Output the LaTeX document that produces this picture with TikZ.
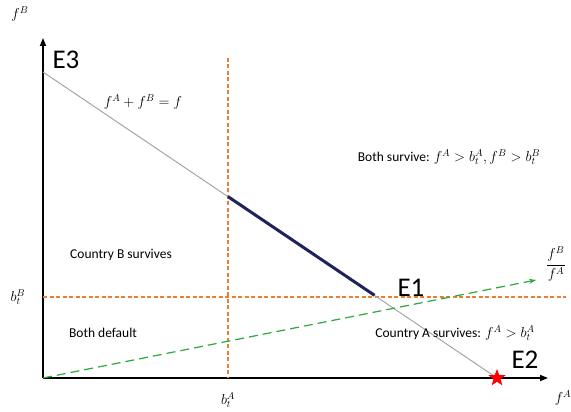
\documentclass[tikz,border=0pt]{standalone}
\usepackage{fontspec}
\setmainfont{Carlito}
\usetikzlibrary{shapes.geometric,arrows.meta}
\definecolor{thrOrange}{RGB}{237,125,49}
\definecolor{rayGreen}{RGB}{40,170,60}
\definecolor{segNavy}{RGB}{30,36,90}
\definecolor{lineGray}{RGB}{165,165,165}
\begin{document}
\begin{tikzpicture}[
    x=1pt, y=-1pt,
    axis/.style={line width=1.6pt, -{Triangle[length=8pt,width=6pt]}},
    budget/.style={draw=lineGray, line width=1pt},
    threshold/.style={draw=thrOrange, dash pattern=on 4pt off 2.5pt, line width=1.2pt},
    ratio/.style={draw=rayGreen, dash pattern=on 9pt off 5pt, line width=1.2pt, -{Stealth[length=7pt,width=5pt]}},
    region/.style={font=\fontsize{13.5}{16}\selectfont},
    axlabel/.style={font=\fontsize{14.4}{17}\selectfont},
    eqlabel/.style={font=\fontsize{27}{30}\selectfont, inner sep=0pt}
]
    \useasboundingbox (0,0) rectangle (571,412);
    % axes
    \coordinate (O) at (43,378);
    \coordinate (ytop) at (43,38);
    \coordinate (xend) at (548,378);
    \draw[axis] (O) -- (ytop);
    \draw[axis] (O) -- (xend);
    \node[axlabel] (fB) at (20,14) {$f^B$};
    \node[axlabel] (fA) at (563,398) {$f^A$};

    % thresholds
    \coordinate (bAtop) at (228,58);
    \coordinate (bAbot) at (228,378);
    \coordinate (bBleft) at (43,297);
    \coordinate (bBright) at (566,297);
    \draw[threshold] (bAtop) -- (bAbot);
    \draw[threshold] (bBleft) -- (bBright);
    \node[axlabel] (bA) at (228,400) {$b_t^A$};
    \node[axlabel] (bB) at (18,297) {$b_t^B$};

    % budget line
    \coordinate (E3pt) at (43,72);
    \coordinate (E2pt) at (497,378);
    \coordinate (seg1) at (228,196.6);
    \coordinate (seg2) at (374.5,295.3);
    \draw[budget] (E3pt) -- (E2pt);
    \draw[line width=3pt, draw=segNavy] (seg1) -- (seg2);
    \node[axlabel] (budgeteq) at (143,102) {$f^A+f^B=f$};

    % ratio ray
    \coordinate (rayend) at (536,280);
    \draw[ratio] (O) -- (rayend);
    \node[axlabel] (ratiolbl) at (556,264) {$\displaystyle\frac{f^B}{f^A}$};

    % equilibria
    \node[eqlabel] (E3) at (66,60) {E3};
    \node[eqlabel] (E1) at (411,288) {E1};
    \node[eqlabel] (E2) at (525,360) {E2};
    \node[star, star points=5, star point ratio=2.4, fill=red, inner sep=0pt, minimum size=18pt] (redstar) at (E2pt) {};

    % regions
    \node[region] (both) at (449,157) {Both survive: {\fontsize{14.4}{17}\selectfont$f^A>b_t^A,f^B>b_t^B$}};
    \node[region] (cB) at (121,255) {Country B survives};
    \node[region] (bd) at (103,333) {Both default};
    \node[region] (cA) at (455,333) {Country A survives: {\fontsize{14.4}{17}\selectfont$f^A>b_t^A$}};
\end{tikzpicture}
\end{document}
